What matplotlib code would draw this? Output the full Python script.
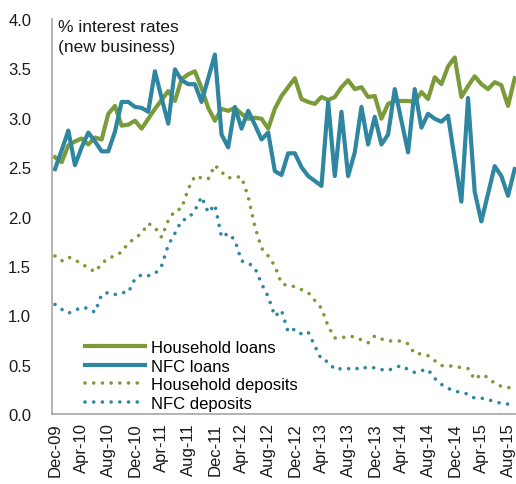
import numpy as np
import matplotlib
matplotlib.use("Agg")
import matplotlib.pyplot as plt

plt.rcParams['font.family'] = ['Liberation Sans', 'DejaVu Sans']

# monthly, Dec-09 .. Sep-15
household_loans = [
    2.60, 2.55, 2.72, 2.76, 2.79, 2.73, 2.80, 2.78, 3.04, 3.12,
    2.92, 2.93, 2.97, 2.89, 2.99, 3.09, 3.18, 3.27, 3.17, 3.39,
    3.44, 3.47, 3.30, 3.10, 2.97, 3.09, 3.07, 3.10, 3.04, 2.99,
    3.00, 2.99, 2.89, 3.09, 3.22, 3.31, 3.40, 3.19, 3.16, 3.14,
    3.21, 3.18, 3.21, 3.31, 3.38, 3.29, 3.31, 3.21, 3.22, 2.99,
    3.14, 3.17, 3.17, 3.17, 3.16, 3.26, 3.19, 3.41, 3.34, 3.52,
    3.61, 3.21, 3.32, 3.42, 3.34, 3.29, 3.36, 3.33, 3.12, 3.40,
]
nfc_loans = [
    2.48, 2.67, 2.87, 2.52, 2.70, 2.85, 2.76, 2.66, 2.66, 2.86,
    3.16, 3.16, 3.11, 3.10, 3.06, 3.47, 3.20, 2.94, 3.49, 3.38,
    3.34, 3.34, 3.16, 3.40, 3.64, 2.83, 2.70, 3.11, 2.89, 3.07,
    2.93, 2.78, 2.85, 2.46, 2.42, 2.64, 2.64, 2.50, 2.41, 2.36,
    2.31, 3.16, 2.41, 3.06, 2.41, 2.65, 3.11, 2.73, 3.01, 2.73,
    2.83, 3.29, 2.97, 2.65, 3.29, 2.90, 3.04, 2.99, 2.96, 3.02,
    2.58, 2.15, 3.20, 2.25, 1.95, 2.23, 2.51, 2.41, 2.21, 2.48,
]
household_deposits = [
    1.60, 1.55, 1.59, 1.56, 1.52, 1.48, 1.44, 1.52, 1.58, 1.60,
    1.64, 1.73, 1.78, 1.83, 1.93, 1.89, 1.79, 1.96, 2.06, 2.08,
    2.28, 2.41, 2.39, 2.38, 2.52, 2.45, 2.39, 2.40, 2.40, 2.20,
    1.90, 1.68, 1.60, 1.50, 1.32, 1.30, 1.29, 1.26, 1.23, 1.15,
    1.07, 0.89, 0.77, 0.77, 0.79, 0.78, 0.75, 0.72, 0.79, 0.76,
    0.74, 0.74, 0.74, 0.71, 0.61, 0.61, 0.59, 0.54, 0.49, 0.49,
    0.48, 0.47, 0.46, 0.35, 0.40, 0.37, 0.31, 0.28, 0.27, 0.25,
]
nfc_deposits = [
    1.11, 1.06, 1.02, 1.05, 1.08, 1.07, 1.03, 1.21, 1.23, 1.21,
    1.23, 1.23, 1.37, 1.41, 1.40, 1.42, 1.50, 1.71, 1.83, 1.96,
    1.98, 2.06, 2.20, 2.04, 2.12, 1.79, 1.83, 1.76, 1.55, 1.53,
    1.48, 1.32, 1.19, 0.99, 1.05, 0.83, 0.86, 0.81, 0.83, 0.69,
    0.55, 0.53, 0.45, 0.46, 0.46, 0.45, 0.48, 0.46, 0.47, 0.45,
    0.44, 0.47, 0.49, 0.45, 0.42, 0.44, 0.45, 0.36, 0.30, 0.26,
    0.23, 0.22, 0.20, 0.16, 0.16, 0.15, 0.12, 0.11, 0.10, 0.09,
]
tick_labels = ["Dec-09", "Apr-10", "Aug-10", "Dec-10", "Apr-11", "Aug-11",
               "Dec-11", "Apr-12", "Aug-12", "Dec-12", "Apr-13", "Aug-13",
               "Dec-13", "Apr-14", "Aug-14", "Dec-14", "Apr-15", "Aug-15"]

GREEN = "#7b9a3a"
BLUE = "#2e86a0"
dots = (0, (0.01, 2.4))

x = np.arange(len(household_loans))

fig = plt.figure(figsize=(5.16, 4.85), dpi=100)
ax = fig.add_axes([52 / 516, 70 / 485, 1 - 52 / 516, 395 / 485])

ax.plot(x, household_loans, color=GREEN, lw=3, label="Household loans")
ax.plot(x, nfc_loans, color=BLUE, lw=3, label="NFC loans")
ax.plot(x, household_deposits, color=GREEN, lw=2.6, ls=dots,
        dash_capstyle="round", label="Household deposits")
ax.plot(x, nfc_deposits, color=BLUE, lw=2.6, ls=dots,
        dash_capstyle="round", label="NFC deposits")

ax.set_xlim(-0.45, 69.2)
ax.set_ylim(0, 4)
ax.set_yticks(np.arange(0, 4.01, 0.5))
ax.set_yticklabels([f"{v:.1f}" for v in np.arange(0, 4.01, 0.5)])
ax.set_xticks(np.arange(0, len(x), 4))
ax.set_xticklabels(tick_labels, rotation=90)
ax.tick_params(axis="both", length=0, labelsize=12, colors="#1a1a1a")
ax.tick_params(axis="y", pad=15)
ax.tick_params(axis="x", pad=6)

for s in ["top", "right"]:
    ax.spines[s].set_visible(False)
for s in ["left", "bottom"]:
    ax.spines[s].set_color("#a6a6a6")
    ax.spines[s].set_linewidth(1.2)

fig.text(58 / 516, 1 - 20 / 485, "% interest rates\n(new business)",
         fontsize=12.5, va="top", ha="left", color="#1a1a1a",
         linespacing=1.4)

ax.legend(loc="lower left", bbox_to_anchor=(0.072, 0.008), frameon=False,
          fontsize=12, handlelength=3.6, handletextpad=0.35,
          labelspacing=0.22, borderpad=0, borderaxespad=0)

fig.savefig("out.png", dpi=100)
